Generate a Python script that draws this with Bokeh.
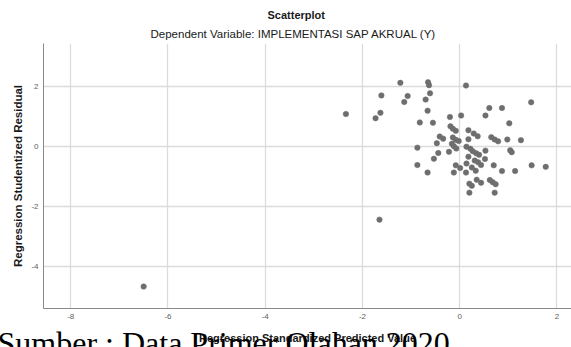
from bokeh.plotting import figure
from bokeh.models import Range1d, FixedTicker, Title
from bokeh.embed import file_html
from bokeh.resources import INLINE

# Regression Standardized Predicted Value (x) / Regression Studentized Residual (y)
pred = [-2.34, -1.61, -1.63, -1.73, -1.22, -1.07, -1.14, -0.65, -0.63, -0.61,
        -0.70, -0.66, -0.82, -0.55, 0.13, -0.20, 0.03, 0.61, 0.87, 0.53,
        1.47, 1.02, -0.19, -0.14, -0.08, 0.18, 0.29, 0.37, -0.41, -0.34,
        -0.47, -0.14, -0.08, -0.02, 0.18, 0.65, 0.72, 0.79, 0.98, 1.26,
        -0.87, -0.16, -0.12, -0.07, 0.14, 0.22, 0.27, 0.34, 0.40, 0.53,
        1.04, 1.07, -0.44, -0.53, -0.22, 0.18, 0.31, 0.38, 0.44, 0.52,
        -0.87, -0.66, -0.08, 0.01, -0.12, 0.13, 0.14, 0.25, 0.33, 0.70,
        0.87, 1.14, 1.48, 1.77, 0.35, 0.44, 0.20, 0.25, 0.20, 0.62,
        0.68, 0.74, 0.72, -1.65, -6.50]
resid = [1.08, 1.70, 1.12, 0.94, 2.12, 1.68, 1.48, 2.14, 2.04, 1.77,
         1.56, 1.19, 0.80, 0.79, 2.03, 0.98, 1.03, 1.28, 1.28, 1.03,
         1.47, 0.77, 0.67, 0.59, 0.52, 0.54, 0.43, 0.34, 0.33, 0.26,
         0.11, 0.30, 0.22, 0.18, 0.24, 0.31, 0.23, 0.17, 0.23, 0.21,
         -0.04, 0.09, 0.01, -0.07, -0.01, -0.08, -0.16, -0.23, -0.28, -0.14,
         -0.13, -0.19, -0.22, -0.41, -0.18, -0.34, -0.47, -0.53, -0.62, -0.42,
         -0.62, -0.87, -0.63, -0.72, -0.87, -0.87, -0.57, -0.70, -0.81, -0.63,
         -0.82, -0.82, -0.63, -0.68, -1.11, -1.21, -1.24, -1.31, -1.54, -1.12,
         -1.19, -1.26, -1.54, -2.44, -4.67]

x_ticks = [-8, -6, -4, -2, 0, 2]
y_ticks = [-4, -2, 0, 2]

title_text = "Scatterplot"
subtitle_text = "Dependent Variable: IMPLEMENTASI SAP AKRUAL (Y)"
x_label = "Regression Standardized Predicted Value"
y_label = "Regression Studentized Residual"
source_text = "Sumber : Data Primer Olahan 2020"

p = figure(width=571, height=347, output_backend="svg", toolbar_location=None,
           x_range=Range1d(-8.56, 2.30), y_range=Range1d(-5.4, 3.43),
           min_border_left=43, min_border_top=43, min_border_bottom=39,
           min_border_right=0)
p.outline_line_color = None
p.background_fill_color = "white"
p.border_fill_color = "white"

# main title (outer), subtitle (closest to the plot)
p.title.text = title_text
p.title.align = "left"
p.title.offset = 224
p.title.text_font = "Liberation Sans"
p.title.text_font_style = "bold"
p.title.text_font_size = "11px"
p.title.text_color = "#1a1a1a"
p.title.standoff = 4
p.add_layout(Title(text=subtitle_text, align="left", offset=107,
                   text_font="Liberation Sans", text_font_style="normal",
                   text_font_size="11.5px", text_color="#1a1a1a", standoff=7),
             "above")

for ax in (p.xaxis[0], p.yaxis[0]):
    ax.axis_line_color = "#8a8a8a"
    ax.axis_line_width = 1
    ax.major_tick_line_color = None
    ax.minor_tick_line_color = None
    ax.major_tick_out = 0
    ax.major_tick_in = 0
    ax.major_label_text_font = "Liberation Sans"
    ax.major_label_text_font_size = "8px"
    ax.major_label_text_color = "#606060"
    ax.major_label_standoff = 5
    ax.axis_label_text_font = "Liberation Sans"
    ax.axis_label_text_font_style = "bold"
    ax.axis_label_text_color = "#1a1a1a"

p.xaxis[0].ticker = FixedTicker(ticks=x_ticks)
p.yaxis[0].ticker = FixedTicker(ticks=y_ticks)
p.xaxis[0].major_label_overrides = {t: str(t) for t in x_ticks}
p.yaxis[0].major_label_overrides = {t: str(t) for t in y_ticks}
p.xaxis[0].axis_label = x_label
p.xaxis[0].axis_label_text_font_size = "11px"
p.xaxis[0].axis_label_standoff = 10
p.yaxis[0].axis_label = y_label
p.yaxis[0].axis_label_text_font_size = "11.5px"
p.yaxis[0].axis_label_standoff = 4

p.xgrid.grid_line_color = "#dcdcdc"
p.ygrid.grid_line_color = "#dcdcdc"
p.xgrid.grid_line_width = 1.3
p.ygrid.grid_line_width = 1.3
p.xgrid.ticker = FixedTicker(ticks=x_ticks)
p.ygrid.ticker = FixedTicker(ticks=y_ticks)

p.scatter(pred, resid, size=5.5, marker="circle", fill_color="#6e6e6e",
          line_color="#6e6e6e", line_width=0.5)

# source caption overlapping the bottom area (near-zero-height title panel after the axis)
src = Title(text=source_text, align="left", offset=-46, vertical_align="top",
            text_font="Liberation Serif", text_font_style="normal",
            text_font_size="32px", text_color="black", standoff=-44,
            background_fill_color=None, border_line_color=None)
p.add_layout(src, "below")

open("out.html", "w").write(file_html(p, INLINE))
